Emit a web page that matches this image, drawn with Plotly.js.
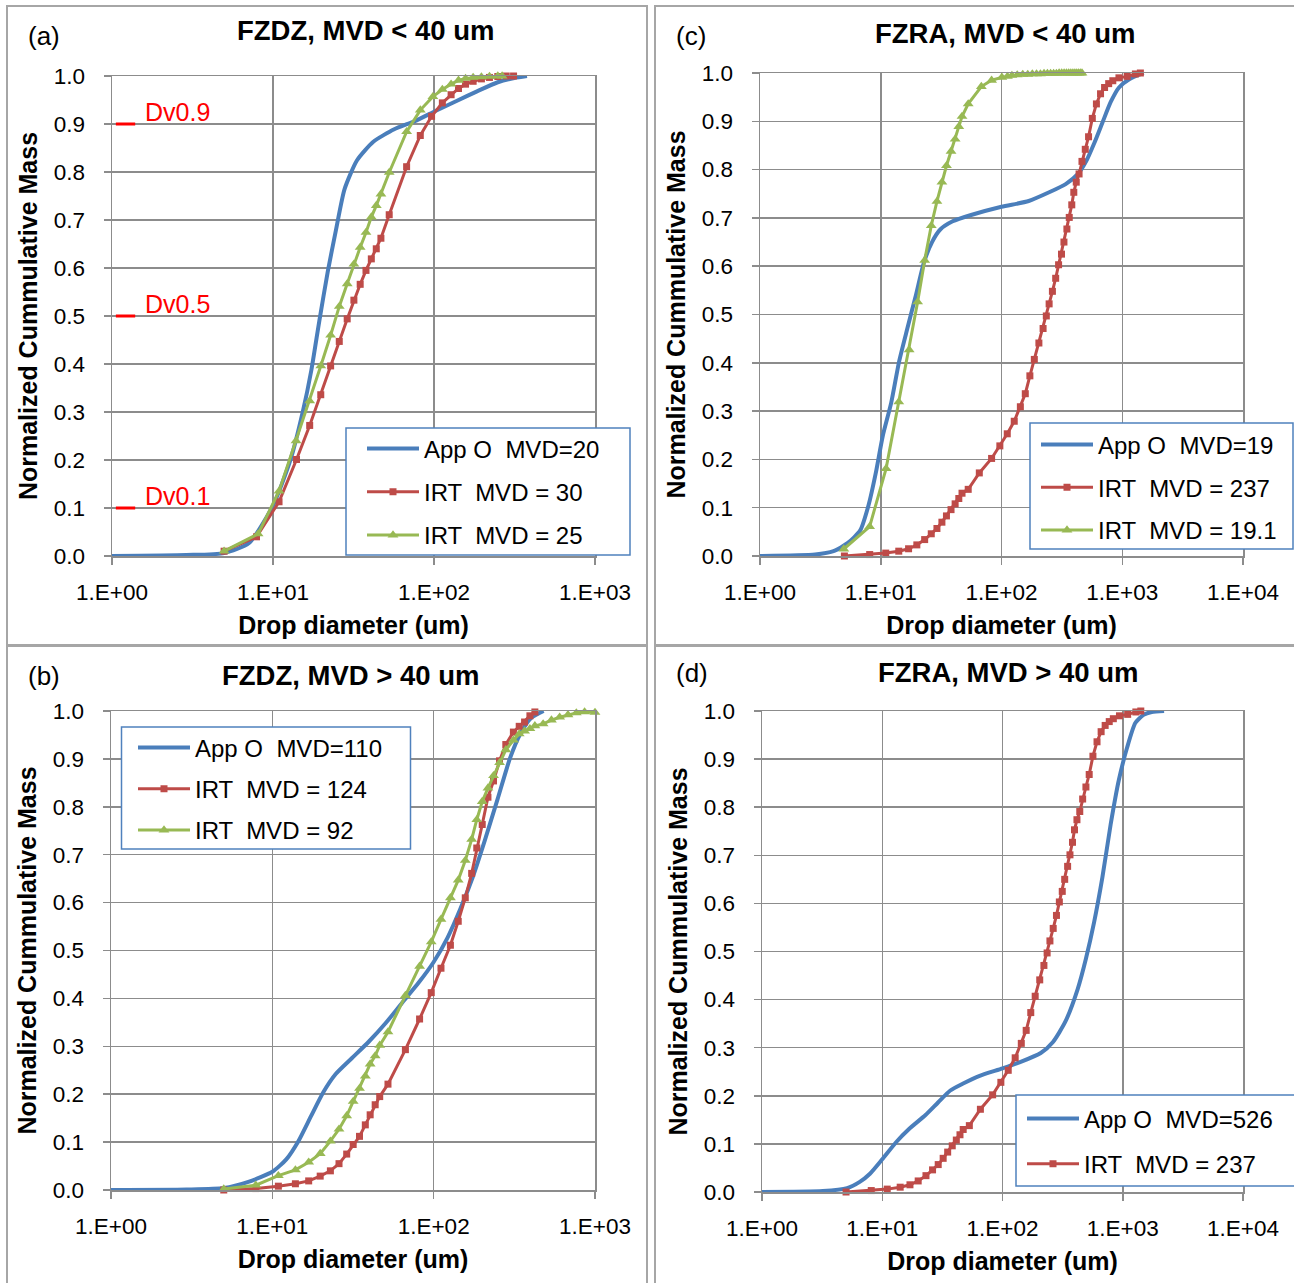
<!DOCTYPE html>
<html>
<head>
<meta charset="utf-8">
<script src="https://cdn.plot.ly/plotly-3.0.1.min.js"></script>
<style>html,body{margin:0;padding:0;background:#fff}</style>
</head>
<body>
<div id="chart" style="width:1294px;height:1283px"></div>
<script>
// ---------- DATA ----------
const panelTitles = ['FZDZ, MVD < 40 um', 'FZRA, MVD < 40 um', 'FZDZ, MVD > 40 um', 'FZRA, MVD > 40 um'];
const panelLetters = ['(a)', '(c)', '(b)', '(d)'];
const xTitle = 'Drop diameter (um)';
const yTitle = 'Normalized Cummulative Mass';
const xTickVals3 = [1, 10, 100, 1000];
const xTickText3 = ['1.E+00', '1.E+01', '1.E+02', '1.E+03'];
const xTickVals4 = [1, 10, 100, 1000, 10000];
const xTickText4 = ['1.E+00', '1.E+01', '1.E+02', '1.E+03', '1.E+04'];
const dvLevels = [0.9, 0.5, 0.1];
const dvLabels = ['Dv0.9', 'Dv0.5', 'Dv0.1'];

const namesA = ['App O  MVD=20', 'IRT  MVD = 30', 'IRT  MVD = 25'];
const namesC = ['App O  MVD=19', 'IRT  MVD = 237', 'IRT  MVD = 19.1'];
const namesB = ['App O  MVD=110', 'IRT  MVD = 124', 'IRT  MVD = 92'];
const namesD = ['App O  MVD=526', 'IRT  MVD = 237'];

// Panel (a) FZDZ, MVD < 40 um
const aAppO_D = [1, 2.9, 4.97, 7.1, 10, 12.8, 15.3, 17.3, 19.4, 21.9, 24.6, 27.8, 33.2, 42, 56.6, 76, 102, 138, 185, 249, 316, 378];
const aAppO_M = [0, 0.002, 0.006, 0.027, 0.105, 0.199, 0.30, 0.387, 0.49, 0.593, 0.679, 0.764, 0.824, 0.863, 0.889, 0.906, 0.927, 0.948, 0.968, 0.987, 0.996, 1.0];
const aIRT30_D = [4.97, 7.9, 10.9, 14.0, 16.9, 19.8, 22.8, 25.8, 28.9, 31.8, 34.8, 37.8, 40.8, 43.8, 46.8, 52.7, 67.6, 82.2, 96.6, 112.7, 127.7, 142, 157, 175, 197, 221, 249, 281, 312];
const aIRT30_M = [0.01, 0.040, 0.113, 0.201, 0.272, 0.336, 0.396, 0.447, 0.494, 0.533, 0.566, 0.595, 0.619, 0.640, 0.662, 0.711, 0.811, 0.876, 0.916, 0.944, 0.961, 0.974, 0.983, 0.989, 0.994, 0.997, 0.999, 1.0, 1.0];
const aIRT25_D = [4.97, 8.08, 10.9, 13.9, 16.9, 19.8, 22.8, 25.8, 28.9, 31.8, 34.8, 37.8, 40.8, 43.8, 46.8, 52.7, 67.6, 82.2, 98.4, 112.7, 127.7, 142, 157, 175, 197, 221, 249, 265];
const aIRT25_M = [0.01, 0.046, 0.135, 0.240, 0.323, 0.396, 0.460, 0.520, 0.567, 0.608, 0.643, 0.674, 0.706, 0.730, 0.754, 0.799, 0.884, 0.929, 0.957, 0.972, 0.983, 0.991, 0.995, 0.997, 0.998, 0.999, 1.0, 1.0];

// Panel (c) FZRA, MVD < 40 um
const cAppO_D = [1, 2.86, 4.06, 5.34, 6.76, 7.9, 9.1, 10.4, 12.2, 14.2, 16.6, 19.5, 22.8, 26.6, 31.1, 39.4, 56, 100, 168, 248, 340, 430, 502, 587, 687, 803, 940, 1143, 1503];
const cAppO_M = [0, 0.003, 0.010, 0.027, 0.053, 0.104, 0.172, 0.249, 0.317, 0.403, 0.471, 0.539, 0.608, 0.650, 0.676, 0.693, 0.706, 0.723, 0.735, 0.753, 0.770, 0.791, 0.817, 0.855, 0.898, 0.940, 0.970, 0.987, 1.0];
const cIRT191_D = [4.94, 8.09, 11.07, 14.1, 17.2, 20.2, 23.1, 26.2, 29.2, 32.1, 35.0, 38.2, 41.3, 44.3, 47.1, 53.0, 68.1, 82.8, 100.7, 112, 122, 135, 150, 165, 180, 195, 210, 225, 240, 255, 270, 285, 300, 315, 330, 345, 360, 375, 390, 405, 420, 435, 450, 464];
const cIRT191_M = [0.0145, 0.061, 0.181, 0.319, 0.427, 0.526, 0.612, 0.684, 0.734, 0.774, 0.808, 0.838, 0.863, 0.889, 0.910, 0.936, 0.972, 0.985, 0.991, 0.993, 0.995, 0.996, 0.997, 0.997, 0.998, 0.998, 0.998, 0.999, 0.999, 0.999, 0.999, 0.999, 1.0, 1.0, 1.0, 1.0, 1.0, 1.0, 1.0, 1.0, 1.0, 1.0, 1.0, 1.0];

// IRT MVD = 237 (same series in panels (c) and (d))
const irt237_D = [5.0, 8.1, 11, 14.1, 17.0, 19.9, 23.1, 26.2, 29.2, 32.1, 35.0, 38.2, 41.3, 44.3, 47.1, 53.0, 65.5, 82.8, 96.9, 111.6, 127.5, 143.3, 157.4, 171.8, 187, 204, 221, 235, 248, 264, 281, 297, 314, 329, 348, 364, 382, 397, 416, 439, 464, 494, 526, 565, 611, 661, 714, 772, 835, 939, 1099, 1285, 1413];
const irt237_M = [0, 0.003, 0.006, 0.010, 0.015, 0.023, 0.034, 0.046, 0.057, 0.070, 0.083, 0.096, 0.108, 0.119, 0.130, 0.138, 0.172, 0.202, 0.228, 0.253, 0.279, 0.309, 0.336, 0.373, 0.407, 0.441, 0.471, 0.497, 0.522, 0.548, 0.575, 0.603, 0.625, 0.650, 0.677, 0.701, 0.727, 0.753, 0.774, 0.791, 0.817, 0.842, 0.868, 0.906, 0.936, 0.957, 0.970, 0.978, 0.984, 0.990, 0.993, 0.998, 1.0];

// Panel (b) FZDZ, MVD > 40 um
const bAppO_D = [1, 2.94, 5.0, 7.1, 10, 12.2, 14.5, 17.3, 20.7, 24.7, 31.3, 39.7, 50.3, 63.8, 80.8, 100, 122, 146, 175, 208, 249, 297, 344, 400, 480];
const bAppO_M = [0, 0.001, 0.004, 0.017, 0.038, 0.064, 0.102, 0.153, 0.204, 0.242, 0.276, 0.310, 0.348, 0.391, 0.433, 0.476, 0.527, 0.586, 0.654, 0.731, 0.816, 0.901, 0.952, 0.985, 1.0];
const bIRT124_D = [5.0, 7.9, 10.9, 13.9, 16.8, 19.8, 22.9, 25.9, 28.9, 31.7, 34.7, 37.7, 40.4, 43.4, 46.3, 52.1, 66.8, 81.8, 96.6, 111, 127, 142, 157, 172, 185, 200, 217, 235, 256, 280, 312, 339, 366, 395, 424];
const bIRT124_M = [0, 0.003, 0.008, 0.013, 0.019, 0.029, 0.040, 0.055, 0.075, 0.095, 0.112, 0.136, 0.157, 0.178, 0.195, 0.221, 0.293, 0.357, 0.412, 0.463, 0.511, 0.561, 0.610, 0.661, 0.714, 0.763, 0.820, 0.854, 0.896, 0.930, 0.956, 0.968, 0.977, 0.990, 0.998];
const bIRT92_D = [5.0, 7.9, 10.9, 13.9, 16.8, 19.8, 22.9, 25.9, 28.9, 31.7, 34.7, 37.7, 40.4, 43.4, 46.3, 52.1, 66.8, 81.8, 96.6, 111, 127, 142, 157, 172, 185, 200, 217, 235, 256, 280, 312, 339, 366, 395, 424, 477, 537, 604, 680, 766, 862, 1000];
const bIRT92_M = [0.002, 0.010, 0.030, 0.042, 0.058, 0.076, 0.102, 0.127, 0.155, 0.185, 0.212, 0.238, 0.263, 0.280, 0.302, 0.330, 0.406, 0.467, 0.518, 0.565, 0.610, 0.647, 0.688, 0.732, 0.773, 0.811, 0.839, 0.865, 0.892, 0.919, 0.939, 0.952, 0.958, 0.963, 0.969, 0.973, 0.981, 0.987, 0.992, 0.996, 0.998, 0.997];

// Panel (d) FZRA, MVD > 40 um
const dAppO_D = [1, 3.2, 5.1, 6.5, 7.9, 10, 13.2, 16.7, 22.9, 29.1, 36.8, 46.6, 63.8, 100, 140, 208, 263, 333, 422, 494, 578, 677, 793, 929, 1087, 1271, 1489, 1742, 2207];
const dAppO_M = [0, 0.002, 0.008, 0.021, 0.038, 0.068, 0.105, 0.131, 0.160, 0.186, 0.211, 0.225, 0.241, 0.257, 0.270, 0.289, 0.312, 0.354, 0.422, 0.485, 0.561, 0.654, 0.764, 0.857, 0.924, 0.975, 0.992, 0.998, 1.0];

// ---------- STYLE ----------
const FONT = 'Liberation Sans, Arial, sans-serif';
const BLUE = '#4A7EBB', RED = '#BE4B48', GREEN = '#98B954';
const GRID = '#8C8C8C';
const LEG_BORDER = '#4F81BD';
const W = 1294, H = 1283;
const px = v => v / W;
const py = v => 1 - v / H;

function fixSpaces(s) { return s.replace(/  /g, ' \u00a0'); }
function esc(s) { return s.replace(/</g, '&lt;').replace(/>/g, '&gt;'); }

function blueTrace(x, y, name, ax, lg) {
  return {x, y, name: fixSpaces(name), xaxis: 'x' + ax, yaxis: 'y' + ax, legend: lg, legendgroup: lg + 'b',
    mode: 'lines', line: {color: BLUE, width: 4, shape: 'spline', smoothing: 0.6}, hoverinfo: 'skip'};
}
function redTrace(x, y, name, ax, lg) {
  return {x, y, name: fixSpaces(name), xaxis: 'x' + ax, yaxis: 'y' + ax, legend: lg, legendgroup: lg + 'r',
    mode: 'lines+markers', line: {color: RED, width: 3}, cliponaxis: false,
    marker: {symbol: 'square', size: 7, color: RED}, hoverinfo: 'skip'};
}
function greenTrace(x, y, name, ax, lg) {
  return {x, y, name: fixSpaces(name), xaxis: 'x' + ax, yaxis: 'y' + ax, legend: lg, legendgroup: lg + 'g',
    mode: 'lines+markers', line: {color: GREEN, width: 3}, cliponaxis: false,
    marker: {symbol: 'triangle-up', size: 9.5, color: GREEN}, hoverinfo: 'skip'};
}

const traces = [
  blueTrace(aAppO_D, aAppO_M, namesA[0], '', 'legend'),
  redTrace(aIRT30_D, aIRT30_M, namesA[1], '', 'legend'),
  greenTrace(aIRT25_D, aIRT25_M, namesA[2], '', 'legend'),
  blueTrace(cAppO_D, cAppO_M, namesC[0], '2', 'legend2'),
  redTrace(irt237_D, irt237_M, namesC[1], '2', 'legend2'),
  greenTrace(cIRT191_D, cIRT191_M, namesC[2], '2', 'legend2'),
  blueTrace(bAppO_D, bAppO_M, namesB[0], '3', 'legend3'),
  redTrace(bIRT124_D, bIRT124_M, namesB[1], '3', 'legend3'),
  greenTrace(bIRT92_D, bIRT92_M, namesB[2], '3', 'legend3'),
  blueTrace(dAppO_D, dAppO_M, namesD[0], '4', 'legend4'),
  redTrace(irt237_D, irt237_M, namesD[1], '4', 'legend4')
];

function xAxis(domain, range, anchor, vals, text) {
  return {type: 'log', domain, range, anchor, tickmode: 'array', tickvals: vals, ticktext: text,
    showgrid: true, gridcolor: GRID, gridwidth: 1.5, zeroline: false,
    showline: true, linecolor: GRID, linewidth: 1.5, mirror: true,
    ticks: 'outside', ticklen: 7, tickwidth: 1.5, tickcolor: GRID,
    tickfont: {family: FONT, size: 22.5, color: '#000'}, ticklabelstandoff: 8,
    title: {text: xTitle, font: {family: FONT, size: 25, color: '#000', weight: 'bold'}, standoff: 13},
    automargin: false, fixedrange: true};
}
function yAxis(domain, anchor) {
  return {domain, range: [0, 1], anchor, tick0: 0, dtick: 0.1, tickformat: '.1f',
    showgrid: true, gridcolor: GRID, gridwidth: 1.5, zeroline: false,
    showline: true, linecolor: GRID, linewidth: 1.5, mirror: true,
    ticks: 'outside', ticklen: 7, tickwidth: 1.5, tickcolor: GRID,
    tickfont: {family: FONT, size: 22.5, color: '#000'}, ticklabelstandoff: 14,
    title: {text: yTitle, font: {family: FONT, size: 25, color: '#000', weight: 'bold'}, standoff: 9},
    automargin: false, fixedrange: true};
}

// legend placement: [symbol-left x, top y, row gap]
function legendBox(x, y, gap) {
  return {x: px(x), y: py(y), xanchor: 'left', yanchor: 'top', bgcolor: 'rgba(0,0,0,0)', borderwidth: 0,
    font: {family: FONT, size: 24, color: '#000'}, traceorder: 'grouped', tracegroupgap: gap,
    itemwidth: 52, itemclick: false, itemdoubleclick: false};
}

// legend frames (white boxes with blue borders): [left, top, right, bottom]
const legendFrames = [[346, 428, 630, 555], [1030, 423, 1293, 549], [121.5, 727, 410.5, 849], [1016, 1095, 1300, 1186]]
  .map(f => ({type: 'rect', xref: 'paper', yref: 'paper', x0: px(f[0]), x1: px(f[2]), y0: py(f[3]), y1: py(f[1]),
    line: {color: LEG_BORDER, width: 1.5}, fillcolor: '#fff', layer: 'above'}));

// frames around the four panels
const frames = [
  [7, 6, 647, 645], [655, 6, 1300, 645], [7, 646, 647, 1290], [655, 646, 1300, 1290]
].map(f => ({type: 'rect', xref: 'paper', yref: 'paper', x0: px(f[0]), x1: px(f[2]), y0: py(f[3]), y1: py(f[1]),
  line: {color: '#A6A6A6', width: 2}, fillcolor: 'rgba(0,0,0,0)', layer: 'below'}));

const dvShapes = dvLevels.map(v => ({type: 'line', xref: 'x domain', yref: 'y', x0: 0.008, x1: 0.048, y0: v, y1: v,
  line: {color: '#FF0000', width: 3}}));

const titlePos = [[365, 31], [1005, 33], [350, 675], [1008, 672]];
const letterPos = [[26, 36], [674, 36], [26, 676], [674, 673]];

const annotations = [];
panelTitles.forEach((t, i) => annotations.push({text: esc(t), xref: 'paper', yref: 'paper',
  x: px(titlePos[i][0]), y: py(titlePos[i][1]), xanchor: 'center', yanchor: 'middle', showarrow: false,
  font: {family: FONT, size: 27.5, color: '#000', weight: 'bold'}}));
panelLetters.forEach((t, i) => annotations.push({text: t, xref: 'paper', yref: 'paper',
  x: px(letterPos[i][0]), y: py(letterPos[i][1]), xanchor: 'left', yanchor: 'middle', showarrow: false,
  font: {family: FONT, size: 26, color: '#000'}}));
dvLevels.forEach((v, i) => annotations.push({text: dvLabels[i], xref: 'x domain', yref: 'y',
  x: 0.064, y: v, xanchor: 'left', yanchor: 'bottom', showarrow: false, yshift: -4,
  font: {family: FONT, size: 25, color: '#FF0000'}}));

const layout = {
  width: W, height: H,
  margin: {l: 0, r: 0, t: 0, b: 0, autoexpand: false},
  paper_bgcolor: '#fff', plot_bgcolor: '#fff',
  font: {family: FONT, color: '#000'},
  xaxis: xAxis([px(112), px(595)], [0, 3], 'y', xTickVals3, xTickText3),
  yaxis: yAxis([py(556), py(76)], 'x'),
  xaxis2: xAxis([px(760), px(1243)], [0, 4], 'y2', xTickVals4, xTickText4),
  yaxis2: yAxis([py(556), py(73)], 'x2'),
  xaxis3: xAxis([px(111), px(595)], [0, 3], 'y3', xTickVals3, xTickText3),
  yaxis3: yAxis([py(1190), py(711)], 'x3'),
  xaxis4: xAxis([px(762), px(1243)], [0, 4], 'y4', xTickVals4, xTickText4),
  yaxis4: yAxis([py(1192), py(711)], 'x4'),
  legend: legendBox(362, 426.5, 9),
  legend2: legendBox(1036, 422.5, 8.5),
  legend3: legendBox(133, 725.5, 7),
  legend4: legendBox(1022, 1096.5, 11),
  shapes: frames.concat(dvShapes, legendFrames),
  annotations,
  hovermode: false
};

Plotly.newPlot('chart', traces, layout, {staticPlot: true, displayModeBar: false});
</script>
</body>
</html>
